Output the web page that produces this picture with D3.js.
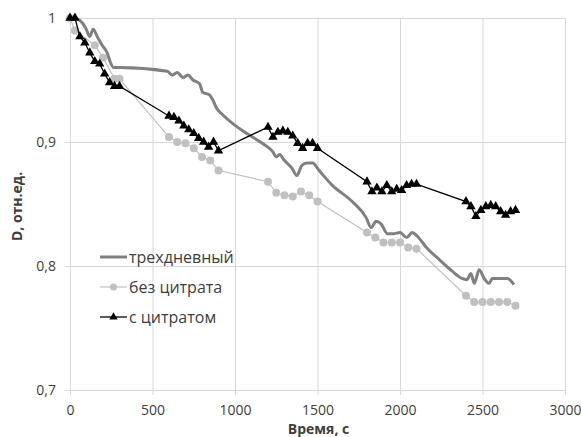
<!DOCTYPE html>
<head>
  <meta charset="utf-8">
  <script src="https://d3js.org/d3.v7.min.js"></script>
  <style>
    body { margin:0; background:#fff; }
    text { font-family:"Open Sans", sans-serif; fill:#404040; }
  </style>
</head>
<body>
<div id=figure></div>
<script>
// трехдневный
var t3 = [0,30,60,95,120,140,165,195,225,240,265,300,590,620,650,685,715,745,785,805,845,865,890,925,985,1070,1165,1230,1250,1270,1300,1345,1375,1405,1435,1470,1510,1590,1710,1795,1825,1855,1885,1925,1960,2000,2040,2075,2105,2160,2240,2315,2375,2405,2430,2450,2480,2510,2540,2560,2650,2690];
var d3days = [1,1,0.998,0.992,0.985,0.991,0.985,0.978,0.972,0.966,0.960,0.960,0.957,0.954,0.956,0.952,0.954,0.950,0.947,0.940,0.938,0.934,0.927,0.922,0.915,0.907,0.899,0.892,0.888,0.890,0.885,0.879,0.873,0.881,0.883,0.883,0.877,0.865,0.852,0.839,0.831,0.836,0.834,0.826,0.826,0.827,0.823,0.827,0.824,0.815,0.805,0.796,0.790,0.789,0.794,0.786,0.797,0.790,0.786,0.790,0.790,0.785];

// без цитрата
var tNo = [0,30,150,200,270,300,600,650,700,750,800,850,900,1200,1250,1300,1350,1400,1450,1500,1800,1850,1900,1950,2000,2050,2100,2400,2450,2500,2550,2600,2650,2700];
var dNo = [1,0.99,0.978,0.968,0.951,0.951,0.904,0.900,0.899,0.895,0.888,0.885,0.877,0.868,0.859,0.857,0.856,0.860,0.857,0.852,0.827,0.823,0.819,0.819,0.819,0.815,0.814,0.776,0.771,0.771,0.771,0.771,0.771,0.768];

// с цитратом
var tCit = [0,30,60,90,120,150,180,210,240,270,300,600,630,660,690,720,750,780,810,840,870,900,1200,1230,1260,1290,1320,1350,1380,1410,1440,1470,1500,1800,1830,1860,1890,1920,1950,1980,2010,2040,2070,2100,2400,2430,2460,2490,2520,2550,2580,2610,2640,2670,2700];
var dCit = [1,1,0.985,0.98,0.972,0.965,0.963,0.955,0.948,0.945,0.945,0.921,0.920,0.917,0.913,0.910,0.907,0.903,0.900,0.896,0.900,0.893,0.912,0.904,0.908,0.909,0.908,0.905,0.899,0.895,0.899,0.899,0.895,0.868,0.860,0.863,0.860,0.865,0.860,0.862,0.861,0.865,0.866,0.866,0.852,0.848,0.840,0.845,0.848,0.849,0.848,0.844,0.841,0.844,0.845];

var xTicks = [0,500,1000,1500,2000,2500,3000];
var yTicks = [0.7,0.8,0.9,1];
var legendNames = ["трехдневный","без цитрата","с цитратом"];

var margin = {top: 18, right: 16, bottom: 47, left: 70};
var width = 581 - margin.left - margin.right;
var height = 437 - margin.top - margin.bottom;

var svg = d3.select("#figure").append("svg")
  .attr("width", 581)
  .attr("height", 437)
  .append("g")
  .attr("transform","translate(" + margin.left + "," + margin.top + ")");

var x = d3.scaleLinear().domain([0,3000]).range([0,width]);
var y = d3.scaleLinear().domain([0.7,1]).range([height,0]);
var fmt = function(d){ return d === 1 ? "1" : d3.format(".1f")(d).replace(".", ","); };

// grid
svg.append("g").attr("class","grid")
  .call(d3.axisLeft(y).tickValues(yTicks).tickSize(-width).tickFormat(""))
  .call(function(g){ g.select(".domain").remove(); });
svg.append("g").attr("class","grid")
  .call(d3.axisBottom(x).tickValues(xTicks).tickSize(height).tickFormat(""))
  .call(function(g){ g.select(".domain").remove(); });
svg.selectAll(".grid line").attr("stroke","#d9d9d9").attr("stroke-width",1);

// axes
var yAxis = svg.append("g")
  .call(d3.axisLeft(y).tickValues(yTicks).tickSize(5).tickPadding(9).tickFormat(fmt));
var xAxis = svg.append("g")
  .attr("transform","translate(0," + height + ")")
  .call(d3.axisBottom(x).tickValues(xTicks).tickSize(5).tickPadding(10).tickFormat(d3.format("d")));
[xAxis, yAxis].forEach(function(a){
  a.select(".domain").attr("stroke","#d9d9d9");
  a.selectAll(".tick line").attr("stroke","#d9d9d9");
  a.selectAll(".tick text").style("font-size","14px").style("font-family","Open Sans").attr("fill","#404040");
});

svg.append("text")
  .attr("x", width/2 + 1)
  .attr("y", height + 44)
  .attr("text-anchor","middle")
  .style("font-size","14px").style("font-weight","bold")
  .text("Время, с");

svg.append("text")
  .attr("transform","translate(-48," + (y(0.848)) + ") rotate(-90)")
  .attr("text-anchor","middle")
  .style("font-size","14px").style("font-weight","bold")
  .text("D, отн.ед.");

// series
var s3 = t3.map(function(t,i){ return [t, d3days[i]]; });
var sNo = tNo.map(function(t,i){ return [t, dNo[i]]; });
var sCit = tCit.map(function(t,i){ return [t, dCit[i]]; });

var line = d3.line().x(function(d){ return x(d[0]); }).y(function(d){ return y(d[1]); });
var smooth = d3.line().curve(d3.curveMonotoneX).x(function(d){ return x(d[0]); }).y(function(d){ return y(d[1]); });

svg.append("path").datum(sNo).attr("d", line)
  .attr("fill","none").attr("stroke","#c0c0c0").attr("stroke-width",1.2);
svg.selectAll(".dot").data(sNo).enter().append("circle")
  .attr("class","dot")
  .attr("cx", function(d){ return x(d[0]); })
  .attr("cy", function(d){ return y(d[1]); })
  .attr("r", 4)
  .attr("fill","#c0c0c0");

svg.append("path").datum(s3).attr("d", smooth)
  .attr("fill","none").attr("stroke","#808080").attr("stroke-width",3)
  .attr("stroke-linejoin","round");

svg.append("path").datum(sCit).attr("d", line)
  .attr("fill","none").attr("stroke","#000").attr("stroke-width",1.3);
var tri = d3.symbol().type(d3.symbolTriangle).size(38);
svg.selectAll(".tri").data(sCit).enter().append("path")
  .attr("class","tri")
  .attr("d", tri)
  .attr("transform", function(d){ return "translate(" + x(d[0]) + "," + y(d[1]) + ")"; })
  .attr("fill","#000");

// legend
var legend = svg.selectAll(".legend").data(legendNames).enter().append("g")
  .attr("class","legend")
  .attr("transform", function(d,i){ return "translate(30," + (239 + i*30) + ")"; });
legend.append("line")
  .attr("x1",0).attr("x2",27)
  .attr("stroke", function(d,i){ return ["#808080","#c0c0c0","#000"][i]; })
  .attr("stroke-width", function(d,i){ return [3,1.2,1.3][i]; });
legend.filter(function(d,i){ return i==1; }).append("circle")
  .attr("cx",13.5).attr("r",3.5).attr("fill","#c0c0c0");
legend.filter(function(d,i){ return i==2; }).append("path")
  .attr("d", d3.symbol().type(d3.symbolTriangle).size(30))
  .attr("transform","translate(13.5,0)").attr("fill","#000");
legend.append("text")
  .attr("x",29).attr("dy","0.35em")
  .style("font-size","16px")
  .text(function(d){ return d; });
</script>
</body>
